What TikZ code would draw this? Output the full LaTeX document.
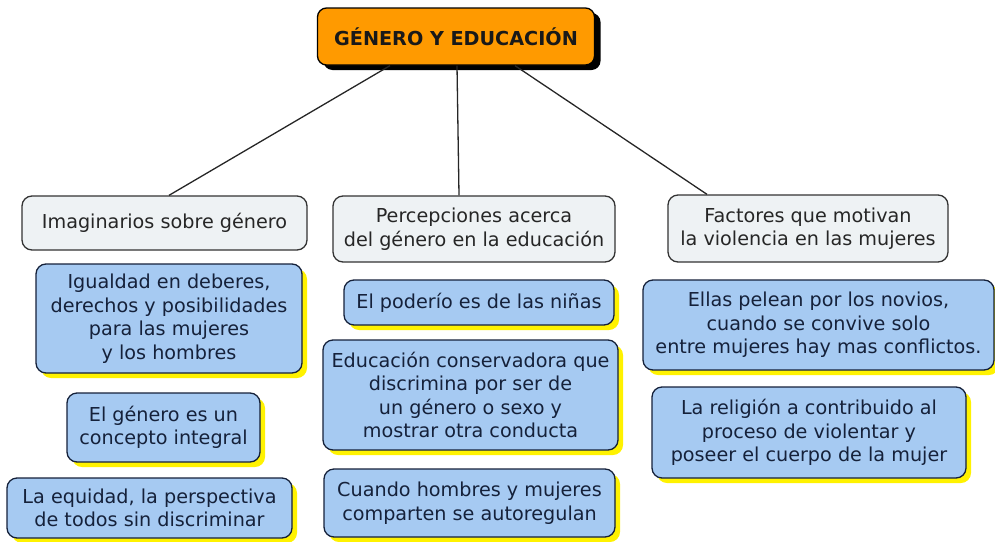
\documentclass[tikz,border=0pt]{standalone}
\usepackage{fontspec}
\setmainfont{DejaVu Sans}
\usetikzlibrary{shadows, positioning}
\definecolor{corange}{HTML}{FF9A00}
\definecolor{cpale}{HTML}{EEF2F4}
\definecolor{cblue}{HTML}{A6CAF2}
\definecolor{cyell}{HTML}{FFF200}
\definecolor{cnavy}{HTML}{15213A}
\definecolor{cgrey}{HTML}{333333}
\tikzset{
  every picture/.style={font=\fontsize{19.2}{23.5}\selectfont, line width=1.3pt},
  topic/.style={draw=black, fill=corange, rounded corners=9pt, align=center,
    font=\fontsize{19.2}{23.5}\selectfont\bfseries, text=black!90,
    drop shadow={shadow xshift=6pt, shadow yshift=-5pt, fill=black, opacity=1}},
  cat/.style={draw=cgrey, fill=cpale, rounded corners=10pt, align=center, text=black!85, inner sep=2pt},
  idea/.style={draw=cnavy, fill=cblue, rounded corners=10pt, align=center, text=cnavy, inner sep=2pt,
    drop shadow={shadow xshift=5pt, shadow yshift=-5pt, fill=cyell, opacity=1}},
  link/.style={draw=black!85, line width=1.3pt},
}
\begin{document}
\begin{tikzpicture}[x=1pt, y=-1pt]
  \useasboundingbox (0,0) rectangle (995,541);

  \node[topic, minimum width=277pt, minimum height=57pt] (gen) at (456,36.5) {GÉNERO Y EDUCACIÓN};

  % three branches
  \node[cat, minimum width=285pt, minimum height=54pt] (imag) at (164.5,223) {Imaginarios sobre género};
  \node[cat, minimum width=282pt, minimum height=66pt] (perc) at (474,229) {Percepciones acerca\\del género en la educación};
  \node[cat, minimum width=280pt, minimum height=67pt] (fact) at (808,228.5) {Factores que motivan\\la violencia en las mujeres};

  \draw[link] ([xshift=-66pt]gen.south) -- ([xshift=4.5pt]imag.north);
  \draw[link] ([xshift=1pt]gen.south) -- ([xshift=-15pt]perc.north);
  \draw[link] ([xshift=59pt]gen.south) -- ([xshift=-101pt]fact.north);

  % imaginarios
  \node[idea, minimum width=266pt, minimum height=109pt] (igual) at (169,318.5) {Igualdad en deberes,\\derechos y posibilidades\\para las mujeres\\y los hombres};
  \node[idea, minimum width=193pt, minimum height=69pt] (integ) at (163.5,427.5) {El género es un\\concepto integral};
  \node[idea, minimum width=285pt, minimum height=60pt] (equid) at (149.5,508) {La equidad, la perspectiva\\de todos sin discriminar};

  % percepciones
  \node[idea, minimum width=270pt, minimum height=45pt] (poder) at (479,302.5) {El poderío es de las niñas};
  \node[idea, minimum width=295pt, minimum height=110pt] (conse) at (470.5,395) {Educación conservadora que\\discrimina por ser de\\un género o sexo y\\mostrar otra conducta};
  \node[idea, minimum width=291pt, minimum height=68pt] (autor) at (469.5,503) {Cuando hombres y mujeres\\comparten se autoregulan};

  % factores
  \node[idea, minimum width=351pt, minimum height=90pt] (novio) at (818.5,325) {Ellas pelean por los novios,\\cuando se convive solo\\entre mujeres hay mas conflictos.};
  \node[idea, minimum width=314pt, minimum height=91pt] (relig) at (809,432.5) {La religión a contribuido al\\proceso de violentar y\\poseer el cuerpo de la  mujer};
\end{tikzpicture}
\end{document}
